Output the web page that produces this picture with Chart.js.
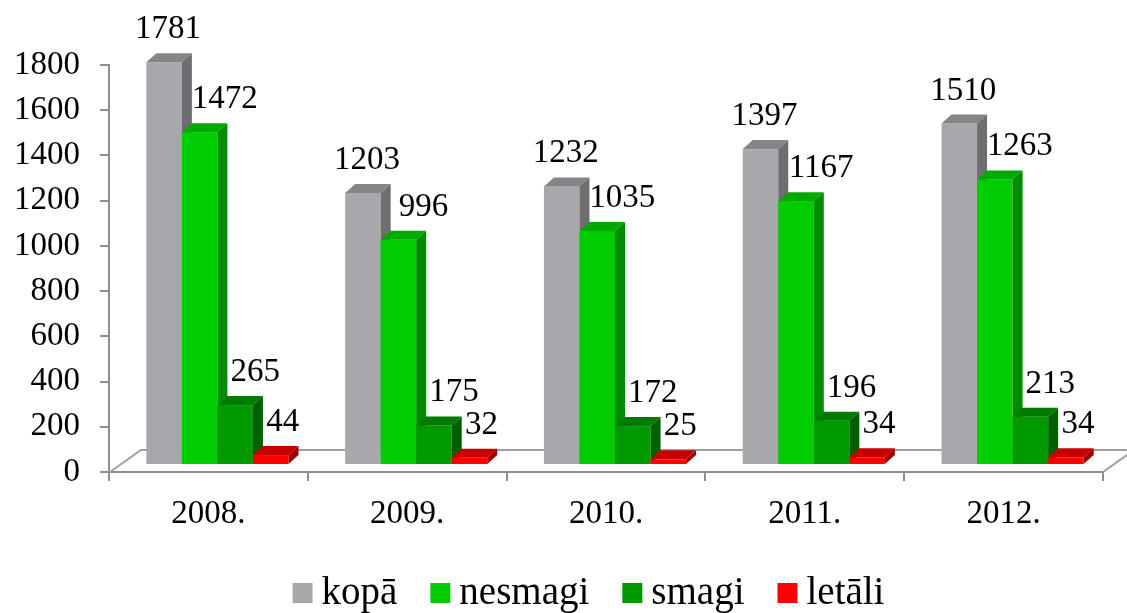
<!DOCTYPE html>
<html><head><meta charset="utf-8">
<script src="https://cdn.jsdelivr.net/npm/chart.js@4/dist/chart.umd.min.js"></script>
<style>html,body{margin:0;padding:0;background:#fff}#wrap{width:1127px;height:613px;position:relative}</style>
</head><body><div id="wrap"><canvas id="c"></canvas></div>
<script>
// ---- data ----
const categories = ['2008.', '2009.', '2010.', '2011.', '2012.'];
const seriesNames = ['kopā', 'nesmagi', 'smagi', 'letāli'];
const kopa = [1781, 1203, 1232, 1397, 1510];
const nesmagi = [1472, 996, 1035, 1167, 1263];
const smagi = [265, 175, 172, 196, 213];
const letali = [44, 32, 25, 34, 34];
const yMin = 0, yMax = 1800, yStep = 200;

// ---- style ----
const frontColors = ['#A8A7AC', '#00CC00', '#009900', '#FF0000'];
const topColors   = ['#858487', '#00AA00', '#007A00', '#C80000'];
const sideColors  = ['#6E6D70', '#008C00', '#006000', '#A00000'];
const labelOffsets = [4, 25, 20, 12];
const AXIS = '#8E8E8E';
const SERIF = '"Liberation Serif", "Times New Roman", serif';
const DX = 10, DY = -9, SHIFT_X = 9, SHIFT_Y = -7;
const FLOOR_DX = 31, FLOOR_DY = -22;

const threeD = {
  id: 'threeD',
  beforeDatasetDraw() { return false; },
  beforeDatasetsDraw(chart) {
    const ctx = chart.ctx, a = chart.chartArea;
    ctx.save();
    ctx.strokeStyle = '#A0A0A0';
    ctx.lineWidth = 2;
    ctx.beginPath();
    ctx.moveTo(a.left + 1, a.bottom);
    ctx.lineTo(a.left + 1 + FLOOR_DX, a.bottom + FLOOR_DY);
    ctx.lineTo(chart.width + 10, a.bottom + FLOOR_DY);
    ctx.moveTo(a.right, a.bottom);
    ctx.lineTo(a.right + FLOOR_DX, a.bottom + FLOOR_DY);
    ctx.stroke();
    ctx.restore();
  },
  afterDatasetsDraw(chart) {
    const ctx = chart.ctx;
    const n = chart.data.labels.length;
    const metas = chart.data.datasets.map((d, i) => chart.getDatasetMeta(i));
    ctx.save();
    for (let j = 0; j < n; j++) {
      metas.forEach((meta, i) => {
        const el = meta.data[j];
        const w = el.width;
        const x0 = el.x - w / 2 + SHIFT_X, x1 = x0 + w;
        const yT = el.y + SHIFT_Y, yB = el.base + SHIFT_Y;
        ctx.fillStyle = frontColors[i];
        ctx.fillRect(x0, yT, w, yB - yT);
        ctx.fillStyle = topColors[i];
        ctx.beginPath();
        ctx.moveTo(x0, yT); ctx.lineTo(x1, yT); ctx.lineTo(x1 + DX, yT + DY); ctx.lineTo(x0 + DX, yT + DY);
        ctx.closePath(); ctx.fill();
        ctx.fillStyle = sideColors[i];
        ctx.beginPath();
        ctx.moveTo(x1, yT); ctx.lineTo(x1 + DX, yT + DY); ctx.lineTo(x1 + DX, yB + DY); ctx.lineTo(x1, yB);
        ctx.closePath(); ctx.fill();
      });
    }
    ctx.fillStyle = '#000';
    ctx.font = '33px ' + SERIF;
    ctx.textAlign = 'center';
    ctx.textBaseline = 'alphabetic';
    metas.forEach((meta, i) => {
      meta.data.forEach((el, j) => {
        const v = chart.data.datasets[i].data[j];
        ctx.fillText(String(v), el.x + SHIFT_X + labelOffsets[i], el.y + SHIFT_Y + DY - 15);
      });
    });
    ctx.restore();
  },
  afterDraw(chart) {
    const ctx = chart.ctx;
    ctx.save();
    ctx.font = '39px ' + SERIF;
    ctx.textBaseline = 'alphabetic';
    ctx.textAlign = 'left';
    const box = 20, gapBox = 9, gapItem = 33;
    const items = chart.data.datasets.map(d => ({ text: d.label, color: d.backgroundColor, w: ctx.measureText(d.label).width }));
    let total = 0;
    items.forEach((it, k) => { total += box + gapBox + it.w + (k < items.length - 1 ? gapItem : 0); });
    let x = 588.5 - total / 2;
    items.forEach(it => {
      ctx.fillStyle = it.color;
      ctx.fillRect(x, 583, box, box);
      x += box + gapBox;
      ctx.fillStyle = '#000';
      ctx.fillText(it.text, x, 604);
      x += it.w + gapItem;
    });
    ctx.restore();
  }
};

const series = [kopa, nesmagi, smagi, letali];
new Chart(document.getElementById('c'), {
  type: 'bar',
  data: {
    labels: categories,
    datasets: series.map((s, i) => ({
      label: seriesNames[i],
      data: s,
      backgroundColor: frontColors[i],
      categoryPercentage: 0.715,
      barPercentage: 1.0
    }))
  },
  options: {
    responsive: true,
    maintainAspectRatio: false,
    animation: false,
    layout: { padding: { top: 65, right: 24, bottom: 0, left: 0 } },
    plugins: { legend: { display: false }, tooltip: { enabled: false } },
    scales: {
      x: {
        offset: true,
        grid: { drawOnChartArea: false, offset: true, tickLength: 9, color: AXIS, lineWidth: 2 },
        border: { color: AXIS, width: 2 },
        ticks: { font: { family: SERIF, size: 33 }, color: '#000', padding: 14, maxRotation: 0 },
        afterFit(scale) { scale.height = 141; }
      },
      y: {
        min: yMin, max: yMax,
        grid: { drawOnChartArea: false, tickLength: 9, color: AXIS, lineWidth: 2 },
        border: { color: AXIS, width: 2 },
        ticks: { stepSize: yStep, font: { family: SERIF, size: 33 }, color: '#000', padding: 20,
                 callback: v => String(v) },
        afterFit(scale) { scale.width = 109; }
      }
    }
  },
  plugins: [threeD]
});
</script>
</body></html>
